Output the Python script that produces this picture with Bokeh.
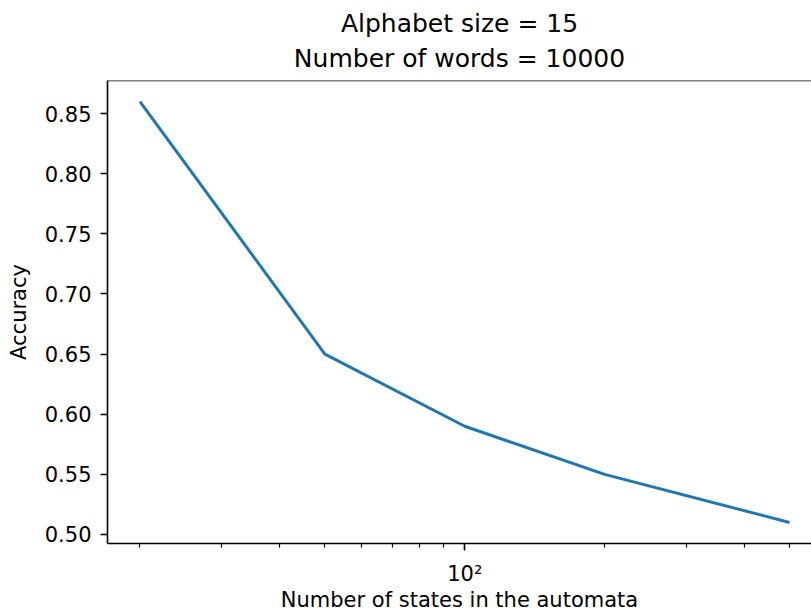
import math
from bokeh.plotting import figure
from bokeh.models import FixedTicker, Span, Title, Range1d, PrintfTickFormatter
from bokeh.embed import file_html
from bokeh.resources import INLINE

# ---- data ----
states = [20, 50, 100, 200, 500]
accuracy = [0.86, 0.65, 0.59, 0.55, 0.51]
y_ticks = [0.50, 0.55, 0.60, 0.65, 0.70, 0.75, 0.80, 0.85]
x_major_ticks = [100]
x_minor_ticks = [20, 30, 40, 50, 60, 70, 80, 90, 200, 300, 400, 500]
x_tick_labels = {100: "10²"}
title_line1 = "Alphabet size = 15"
title_line2 = "Number of words = 10000"
x_label = "Number of states in the automata"
y_label = "Accuracy"

# ---- ranges (matplotlib-like 5% margins; right side cropped as in reference) ----
lx0, lx1 = math.log10(min(states)), math.log10(max(states))
lspan = lx1 - lx0
x_lo = lx0 - 0.05 * lspan
x_hi_full = lx1 + 0.05 * lspan
x_hi = x_lo + (x_hi_full - x_lo) * 0.9853
y0, y1 = min(accuracy), max(accuracy)
yspan = y1 - y0
y_lo, y_hi = y0 - 0.05 * yspan, y1 + 0.05 * yspan

FONT = "DejaVu Sans"

p = figure(width=811, height=614, x_axis_type="log",
           x_range=Range1d(10 ** x_lo, 10 ** x_hi),
           y_range=Range1d(y_lo, y_hi),
           title=None, output_backend="svg", toolbar_location=None,
           min_border_left=107, min_border_right=0,
           min_border_top=80, min_border_bottom=71)

p.line(states, accuracy, line_color="#1f77b4", line_width=3)

p.grid.visible = False
p.outline_line_color = None
p.background_fill_color = "white"
p.border_fill_color = "white"

# top frame line
p.add_layout(Span(location=y_hi, dimension="width", line_color="black", line_width=1.6))

for ax in (p.xaxis[0], p.yaxis[0]):
    ax.axis_line_color = "black"
    ax.axis_line_width = 1.6
    ax.major_tick_line_color = "black"
    ax.major_tick_line_width = 1.6
    ax.major_tick_out = 7
    ax.major_tick_in = 0
    ax.minor_tick_line_color = "black"
    ax.minor_tick_line_width = 1.2
    ax.minor_tick_out = 4
    ax.minor_tick_in = 0
    ax.major_label_text_font = FONT
    ax.major_label_text_font_size = "21px"
    ax.major_label_text_color = "black"
    ax.axis_label_text_font = FONT
    ax.axis_label_text_font_size = "21px"
    ax.axis_label_text_font_style = "normal"
    ax.axis_label_text_color = "black"

p.xaxis.ticker = FixedTicker(ticks=x_major_ticks, minor_ticks=x_minor_ticks)
p.xaxis.major_label_overrides = x_tick_labels
p.xaxis.major_label_standoff = 11
p.xaxis.axis_label = x_label
p.xaxis.axis_label_standoff = -1

p.yaxis.ticker = FixedTicker(ticks=y_ticks)
p.yaxis.formatter = PrintfTickFormatter(format="%.2f")
p.yaxis.minor_tick_line_color = None
p.yaxis.major_label_standoff = 9
p.yaxis.axis_label = y_label
p.yaxis.axis_label_standoff = 11

t2 = Title(text=title_line2, align="center", offset=5, text_font=FONT,
           text_font_size="25px", text_font_style="normal", text_color="black",
           standoff=16)
t1 = Title(text=title_line1, align="center", offset=5, text_font=FONT,
           text_font_size="25px", text_font_style="normal", text_color="black",
           standoff=-8)
p.add_layout(t2, "above")
p.add_layout(t1, "above")

open("out.html", "w").write(file_html(p, INLINE))
